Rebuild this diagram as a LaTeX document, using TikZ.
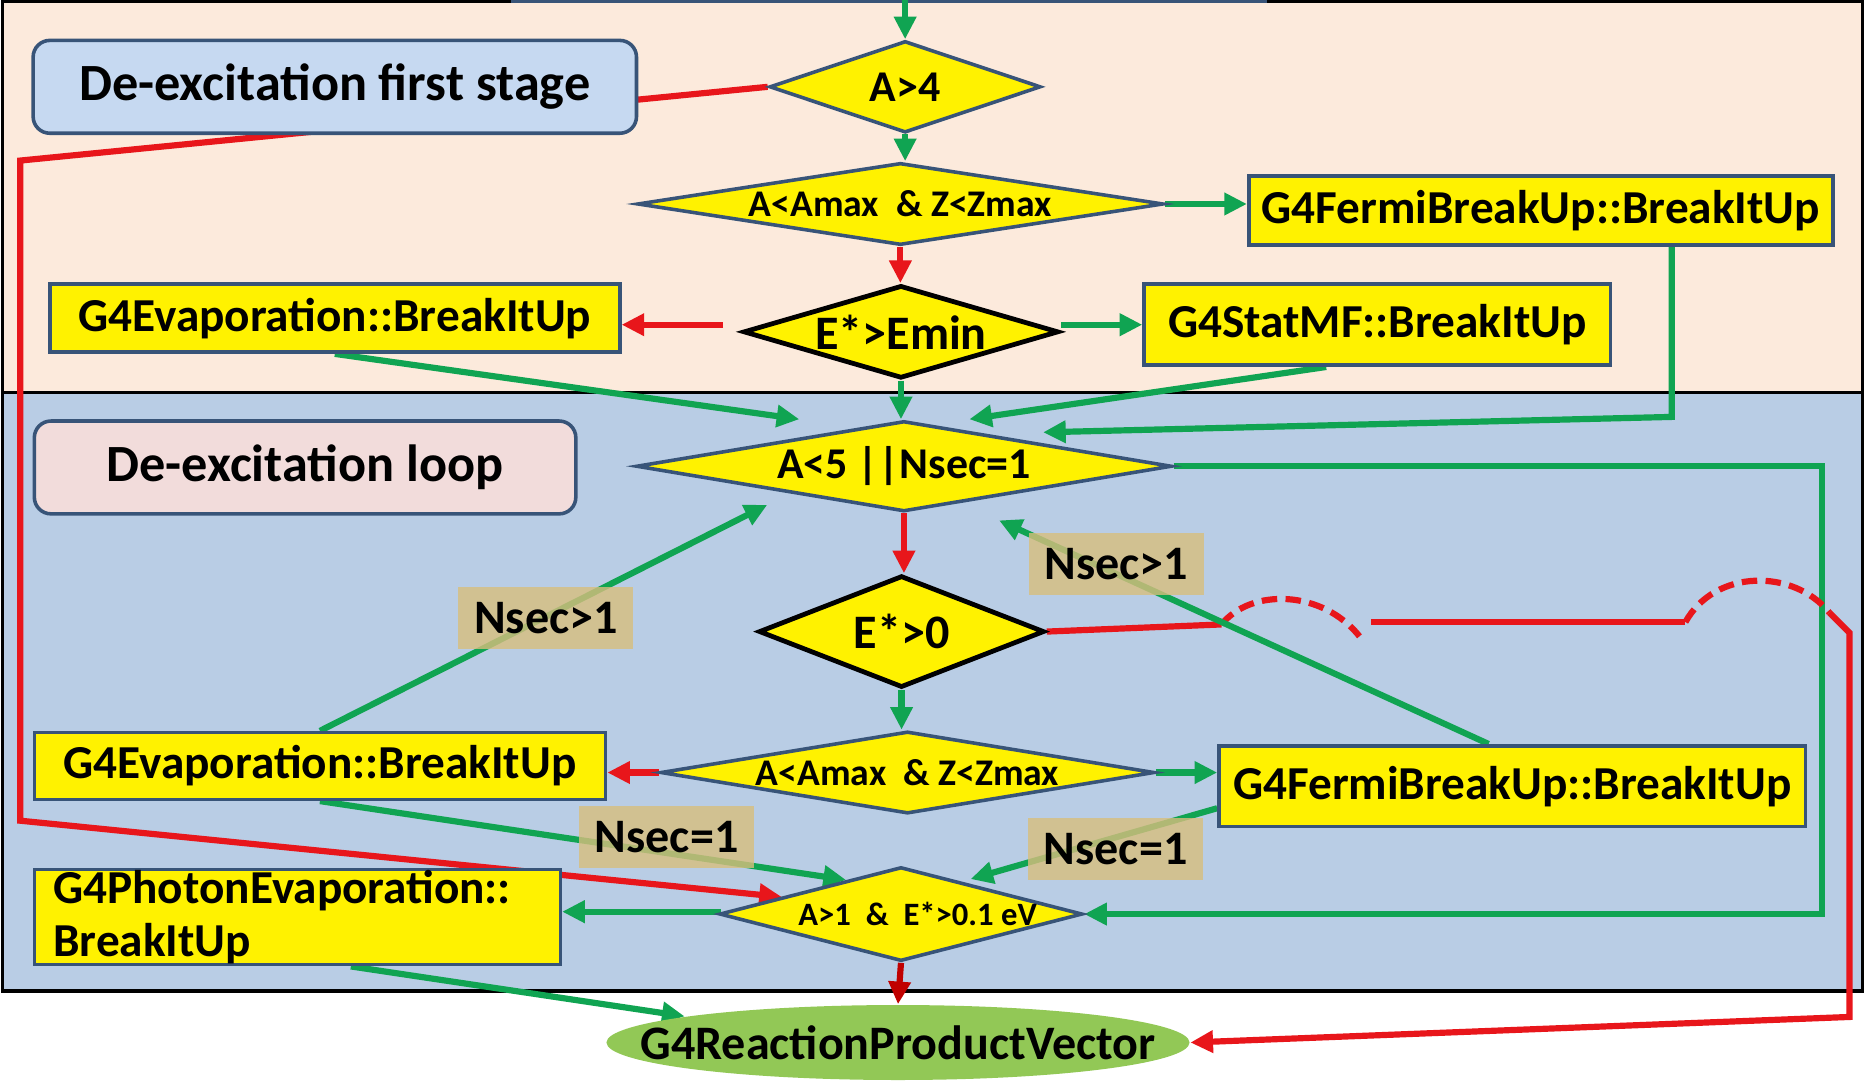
\documentclass[tikz,border=0pt]{standalone}
\usepackage{fontspec}
\setmainfont{Carlito}
\usetikzlibrary{shapes.geometric,arrows.meta,calc}
\pgfdeclarelayer{bg}
\pgfdeclarelayer{lines}
\pgfsetlayers{bg,lines,main}
\definecolor{peach}{RGB}{252,234,220}
\definecolor{panelblue}{RGB}{185,205,229}
\definecolor{boxblue}{RGB}{198,217,241}
\definecolor{boxpink}{RGB}{242,220,219}
\definecolor{edgeblue}{RGB}{56,84,120}
\definecolor{lgreen}{RGB}{16,164,82}
\definecolor{rred}{RGB}{232,22,27}
\definecolor{dred}{RGB}{192,0,0}
\definecolor{labeltan}{RGB}{216,190,125}
\definecolor{ellgreen}{RGB}{146,200,86}
\begin{document}
\begin{tikzpicture}[x=0.01cm,y=-0.01cm,
  ybox/.style={draw=edgeblue, line width=0.03cm, fill=yellow, inner sep=0pt,
    font=\bfseries\fontsize{11.3}{13}\selectfont},
  rbox/.style={draw=edgeblue, line width=0.03cm, rounded corners=0.14cm, inner sep=0pt,
    font=\bfseries\fontsize{12.5}{14}\selectfont},
  dia/.style={diamond, draw=edgeblue, line width=0.03cm, fill=yellow, inner sep=0pt},
  diab/.style={dia, draw=black, line width=0.04cm},
  dtext/.style={font=\bfseries\fontsize{#1}{#1}\selectfont, inner sep=0pt},
  tip/.style={-{Triangle[length=0.19cm,width=0.18cm]}},
  gline/.style={draw=lgreen, line width=0.052cm},
  rline/.style={draw=rred, line width=0.052cm},
  garr/.style={gline, tip},
  rarr/.style={rline, tip},
  darr/.style={draw=dred, line width=0.052cm, tip},
  hop/.style={rline, dash pattern=on 0.13cm off 0.07cm},
  tlab/.style={fill=labeltan, fill opacity=0.8, text opacity=1, inner sep=0pt,
    minimum width=1.47cm, minimum height=0.52cm, font=\bfseries\fontsize{11.5}{13}\selectfont}
]
\useasboundingbox (0,0) rectangle (1568,909);
\begin{pgfonlayer}{bg}
  \fill[white] (0,0) rectangle (1568,909);
  \draw[fill=peach, line width=0.03cm] (2,1) rectangle (1566,330);
  \draw[fill=panelblue, line width=0.03cm] (2,330) rectangle (1566,833);
  \draw[edgeblue, line width=0.035cm] (430,1) -- (1065,1);
\end{pgfonlayer}

% nodes
\node[rbox, fill=boxblue, minimum width=5.07cm, minimum height=0.78cm] (fs) at (281.5,73) {De-excitation first stage};
\node[dia, minimum width=2.28cm, minimum height=0.77cm] (d1) at (761,73) {};
\node[dtext=10.5] (t1) at (d1) {A>4};
\node[dia, minimum width=4.42cm, minimum height=0.69cm] (d2) at (757,171.5) {};
\node[dtext=9] (t2) at (d2) {A<Amax\ \ \& Z<Zmax};
\node[ybox, minimum width=4.91cm, minimum height=0.58cm] (fb1) at (1295.5,177) {G4FermiBreakUp::BreakItUp};
\node[ybox, minimum width=4.79cm, minimum height=0.57cm] (ev1) at (281.5,267.5) {G4Evaporation::BreakItUp};
\node[diab, minimum width=2.65cm, minimum height=0.78cm] (d3) at (757.5,279) {};
\node[dtext=11.5] (t3) at (d3) {E*>Emin};
\node[ybox, minimum width=3.92cm, minimum height=0.68cm] (st) at (1158,273) {G4StatMF::BreakItUp};
\node[dia, minimum width=4.5cm, minimum height=0.76cm] (d4) at (760,392) {};
\node[dtext=10.5] (t4) at (d4) {A<5 ||Nsec=1};
\node[rbox, fill=boxpink, minimum width=4.55cm, minimum height=0.78cm] (lp) at (256.5,393) {De-excitation loop};
\node[diab, minimum width=2.40cm, minimum height=0.94cm] (d5) at (758,531) {};
\node[dtext=11.5] (t5) at (d5) {E*>0};
\node[dia, minimum width=4.15cm, minimum height=0.69cm] (d6) at (763,649.5) {};
\node[dtext=9] (t6) at (d6) {A<Amax\ \ \& Z<Zmax};
\node[ybox, minimum width=4.80cm, minimum height=0.56cm] (ev2) at (269,644) {G4Evaporation::BreakItUp};
\node[ybox, minimum width=4.93cm, minimum height=0.68cm] (fb2) at (1271.5,661) {G4FermiBreakUp::BreakItUp};
\node[dia, minimum width=3.05cm, minimum height=0.79cm] (d7) at (757.5,768.5) {};
\node[dtext=7.8] (t7) at ($(d7)+(14,0)$) {A>1\ \ \&\ \ E*>0.1 eV};
\node[ybox, minimum width=4.42cm, minimum height=0.80cm, text width=4.1cm, align=left,
  font=\bfseries\fontsize{11.3}{12.5}\selectfont] (ph) at (250,771) {G4PhotonEvaporation::\\BreakItUp};
\node[ellipse, fill=ellgreen, inner sep=0pt, minimum width=4.9cm, minimum height=0.63cm] (rpv) at (755,876.5) {};
\node[dtext=11.5] (t8) at (rpv) {G4ReactionProductVector};

% connectors
\begin{pgfonlayer}{lines}
  \coordinate (topin) at (761,-2);
  \draw[garr] (topin) -- (d1.north);
  \draw[garr] (d1.south) -- (d1.south |- d2.north);
  \coordinate (rL1) at (17,135);
  \coordinate (rL2) at (17,690);
  \draw[rarr] (d1.west) -- (rL1) -- (rL2) -- ($(d7.west)!0.35!(d7.north)$);
  \draw[garr] (d2.east) -- (d2.east -| fb1.west);
  \draw[rarr] (d2.south) -- (d2.south |- d3.north);
  \coordinate (e1s) at ($(d3.west)+(-15,-6)$);
  \draw[rarr] (e1s) -- (e1s -| ev1.east);
  \coordinate (e3s) at ($(d3.east)+(0,-6)$);
  \draw[garr] (e3s) -- (e3s -| st.west);
  \draw[garr] (d3.south) -- (d3.south |- d4.north);
  \draw[garr] (ev1.south) -- ($(d4.north)+(-88,0)$);
  \draw[garr] ($(st.south)+(-43,0)$) -- ($(d4.north)+(55,0)$);
  \coordinate (gF) at ($(fb1.south)+(110,143)$);
  \draw[garr] ($(fb1.south)+(110,0)$) -- (gF) -- ($(d4.north)+(117,11)$);
  \coordinate (gR) at (1532,580);
  \draw[garr] (d4.east) -| (gR) |- (d7.east);
  \draw[rarr] (d4.south) -- (d4.south |- d5.north);
  \coordinate (h1a) at (1027,525);
  \coordinate (h1b) at (1143,535);
  \coordinate (h2a) at (1153,523);
  \coordinate (h2b) at (1417,523);
  \coordinate (h3) at (1538,515);
  \coordinate (rR1) at (1555,532);
  \coordinate (rR2) at (1555,855);
  \draw[rline] (d5.east) -- (h1a);
  \draw[hop] (h1a) .. controls (1052,494) and (1112,496) .. (h1b);
  \draw[rline] (h2a) -- (h2b);
  \draw[hop] (h2b) .. controls (1442,478) and (1508,478) .. (h3);
  \draw[rarr] (h3) -- (rR1) -- (rR2) -- (rpv.east);
  \draw[garr] (ev2.north) -- ($(d4.south)+(-115,-7)$);
  \draw[garr] ($(fb2.north)+(-20,0)$) -- ($(d4.south)+(80,6)$);
  \draw[garr] (d5.south) -- (d5.south |- d6.north);
  \draw[rarr] (d6.west) -- (d6.west -| ev2.east);
  \draw[garr] (d6.east) -- (d6.east -| fb2.west);
  \draw[garr] (ev2.south) -- ($(d7.west)!0.7!(d7.north)$);
  \draw[garr] ($(fb2.south west)+(0,-17)$) -- ($(d7.north)!0.38!(d7.east)+(0,-4)$);
  \coordinate (p7) at ($(d7.west)+(3,-2)$);
  \draw[garr] (p7) -- (p7 -| ph.east);
  \draw[darr] (d7.south) -- (rpv.north);
  \draw[garr] ($(ph.south)+(45,0)$) -- (rpv.173);
\end{pgfonlayer}

% condition labels
\node[tlab] (l1) at (459,519.5) {Nsec>1};
\node[tlab] (l2) at (938.5,474) {Nsec>1};
\node[tlab] (l3) at (560.5,704) {Nsec=1};
\node[tlab] (l4) at (938,714) {Nsec=1};
\end{tikzpicture}
\end{document}
